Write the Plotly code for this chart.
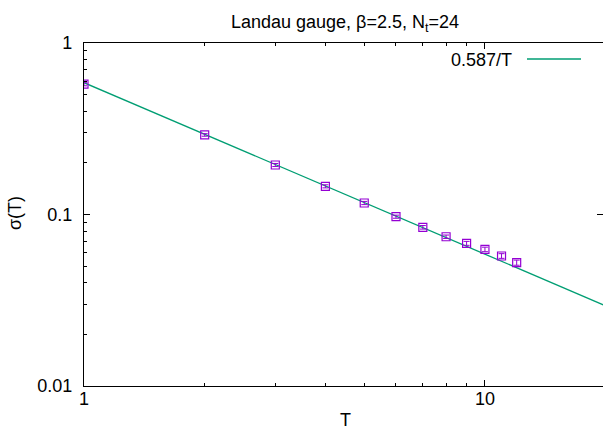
import numpy as np
import plotly.graph_objects as go

# Measured string tension-like quantity sigma(T) vs T (Landau gauge, beta=2.5, Nt=24)
T = [1, 2, 3, 4, 5, 6, 7, 8, 9, 10, 11, 12]
sigma = [0.575, 0.291, 0.1944, 0.146, 0.1167, 0.0971, 0.0842, 0.0742, 0.0679, 0.0626, 0.0573, 0.0524]
sigma_err = [0.012, 0.005, 0.004, 0.003, 0.0025, 0.002, 0.002, 0.0017, 0.0018, 0.0019, 0.0018, 0.0018]

# Fit curve a/T
fit_coef = 0.587
fit_T = np.array([1.0, 20.0])
fit_sigma = fit_coef / fit_T

x_major = [1, 10]
x_minor = [2, 3, 4, 5, 6, 7, 8, 9, 20]
y_major = [0.01, 0.1, 1]
y_minor = [m * d for d in (0.01, 0.1) for m in range(2, 10)]

FONT = "Liberation Sans, Arial, Helvetica, sans-serif"
W, H = 603, 431
L, R, TOP, B = 84, 0, 43, 45

fig = go.Figure()

fig.add_trace(go.Scatter(
    x=fit_T, y=fit_sigma, mode="lines",
    line=dict(color="#009E73", width=1.3),
    showlegend=False, hoverinfo="skip",
))

fig.add_trace(go.Scatter(
    x=T, y=sigma, mode="markers",
    marker=dict(symbol="square-open", size=8, color="#9400D3",
                line=dict(width=1.2, color="#9400D3")),
    error_y=dict(type="data", array=sigma_err, visible=True,
                 color="#9400D3", thickness=1, width=3),
    showlegend=False,
))

axis_common = dict(
    type="log", showgrid=False, zeroline=False,
    showline=True, linecolor="black", linewidth=1.3,
    ticks="inside", ticklen=6, tickwidth=1, tickcolor="black",
    tickfont=dict(family=FONT, size=18, color="black"),
    tickmode="array",
)

fig.update_xaxes(
    **axis_common,
    range=[0, np.log10(19.7)],
    tickvals=x_major, ticktext=[str(v) for v in x_major],
    mirror="allticks",
    ticklabelstandoff=-4,
    minor=dict(tickmode="array", tickvals=x_minor, ticks="inside",
               ticklen=3, tickwidth=1, tickcolor="black"),
)
fig.update_yaxes(
    **axis_common,
    range=[-2, 0],
    tickvals=y_major, ticktext=["0.01", "0.1", "1"],
    mirror=False,
    ticklabelstandoff=7,
    minor=dict(tickmode="array", tickvals=y_minor, ticks="inside",
               ticklen=3, tickwidth=1, tickcolor="black"),
)

pw = W - L - R
ph = H - TOP - B

def px_x(p):
    return (p - L) / pw

def px_y(p):
    return (H - B - p) / ph

# right-hand frame tick at 0.1 (the frame edge itself lies just past the page)
fig.add_shape(type="line", xref="paper", yref="y domain",
              x0=px_x(597), x1=1.0, y0=0.5, y1=0.5,
              line=dict(color="black", width=1))

# key: label followed by a line sample
fig.add_annotation(text=f"{fit_coef}/T", xref="paper", yref="paper",
                   x=px_x(514), y=px_y(60), xanchor="right", yanchor="middle",
                   showarrow=False, font=dict(family=FONT, size=18, color="black"))
fig.add_shape(type="line", xref="paper", yref="paper",
              x0=px_x(527), x1=px_x(581), y0=px_y(59), y1=px_y(59),
              line=dict(color="#009E73", width=1.5))

# axis titles
fig.add_annotation(text="T", xref="paper", yref="paper",
                   x=px_x(345), y=px_y(420), xanchor="center", yanchor="middle",
                   showarrow=False, font=dict(family=FONT, size=18, color="black"))
fig.add_annotation(text="σ(T)", xref="paper", yref="paper",
                   x=px_x(15), y=px_y(213), xanchor="center", yanchor="middle",
                   textangle=-90, showarrow=False,
                   font=dict(family=FONT, size=18, color="black"))

fig.update_layout(
    width=W, height=H,
    margin=dict(l=L, r=R, t=TOP, b=B),
    paper_bgcolor="white", plot_bgcolor="white",
    title=dict(text="Landau gauge, β=2.5, N<sub>t</sub>=24",
               x=345 / W, xanchor="center", y=1 - 22 / H, yanchor="middle",
               font=dict(family=FONT, size=18, color="black")),
)

fig.write_html("out.html")
